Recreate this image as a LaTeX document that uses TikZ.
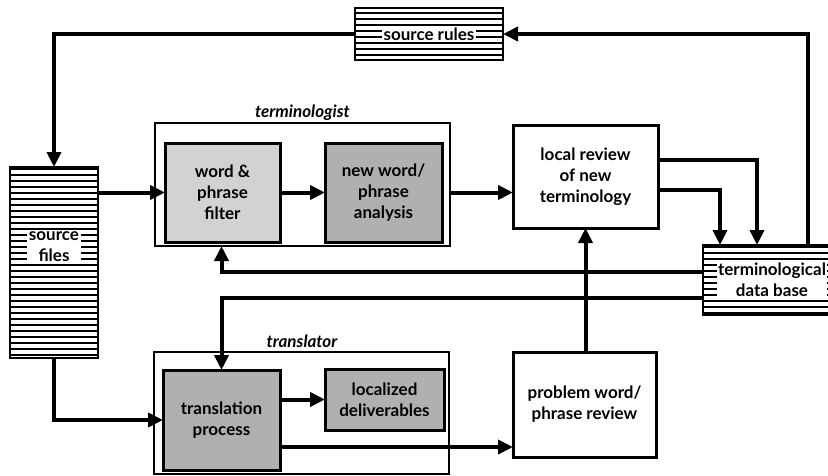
\documentclass[tikz,border=0pt]{standalone}
\usepackage{fontspec}
\setmainfont{Lato}
\usetikzlibrary{arrows.meta,patterns.meta,calc}
\begin{document}
\begin{tikzpicture}[x=1pt,y=-1pt,
  conn/.style={line width=4pt,-{Triangle[length=15pt,width=14pt]}},
  lbl/.style={font=\fontsize{17}{21}\selectfont\bfseries, align=center, text=black},
  striped/.style={draw,line width=2.5pt,pattern={Lines[angle=0,distance=6pt,line width=2pt]},inner sep=0pt,outer sep=0pt},
  whitelbl/.style={lbl,fill=white,inner sep=1.5pt},
  group/.style={draw,line width=1.5pt,fill=white,inner sep=0pt,outer sep=0pt},
  lightbox/.style={draw,line width=3pt,fill=gray!35,inner sep=0pt,outer sep=0pt,lbl},
  darkbox/.style={draw,line width=3pt,fill=gray!62,inner sep=0pt,outer sep=0pt,lbl},
  plainbox/.style={draw,line width=3pt,fill=white,inner sep=0pt,outer sep=0pt,lbl},
  grouplbl/.style={font=\fontsize{17}{20}\selectfont\bfseries\itshape}
]
\useasboundingbox (0,0) rectangle (828,475);

% striped boxes
\node[striped,minimum width=148pt,minimum height=52pt] (srcrules) at (429,34) {};
\node[whitelbl] (srcrulesT) at (srcrules) {source rules};
\node[striped,minimum width=88pt,minimum height=191pt] (srcfiles) at (54,262.5) {};
\node[whitelbl] (srcfilesT) at (54,247) {source\\files};
\node[striped,minimum width=147pt,minimum height=70pt] (db) at (776.5,280) {};
\node[whitelbl] (dbT) at (772,280) {terminological\\data base};

% terminologist group
\node[group,minimum width=295pt,minimum height=123pt] (termbox) at (302.5,184.5) {};
\node[grouplbl,anchor=base] (termlbl) at (302.5,117) {terminologist};
\node[lightbox,minimum width=115pt,minimum height=99pt] (filter) at (222.5,192.5) {word \&\\phrase\\filter};
\node[darkbox,minimum width=117pt,minimum height=99pt] (analysis) at (383.5,192.5) {new word/\\phrase\\analysis};

% local review
\node[plainbox,minimum width=145pt,minimum height=103pt] (localrev) at (585.5,176.5) {local review\\of new\\terminology};

% translator group
\node[group,minimum width=295pt,minimum height=122pt] (transbox) at (301.5,413) {};
\node[grouplbl,anchor=base] (translbl) at (302,347) {translator};
\node[darkbox,minimum width=117pt,minimum height=100pt] (translation) at (221.5,420) {translation\\process};
\node[darkbox,minimum width=119pt,minimum height=61pt] (deliv) at (384.5,399.5) {localized\\deliverables};

% problem review
\node[plainbox,minimum width=143pt,minimum height=105pt] (problem) at (584.5,404.5) {problem word/\\phrase review};

% coordinates on the data base box
\coordinate (dbtap) at (808,245);
\coordinate (dbin1) at (757,245);
\coordinate (dbin2) at (720,245);
\coordinate (dbout1) at (703,272);
\coordinate (dbout2) at (703,298);

% connectors
\draw[conn] (srcrules.west) -| (srcfiles.north);
\draw[conn] (dbtap) |- (srcrules.east);
\draw[conn] (srcfiles.east |- filter.west) -- (filter.west);
\draw[conn] (filter.east) -- (analysis.west);
\draw[conn] (termbox.east |- analysis.east) -- (localrev.west |- analysis.east);
\draw[conn] ([yshift=16.5pt]localrev.east) -| (dbin1);
\draw[conn] ([yshift=-13.5pt]localrev.east) -| (dbin2);
\draw[conn] (dbout1) -| (termbox.south -| translation.north);
\draw[conn] (dbout2) -| (translation.north);
\draw[conn] (srcfiles.south) |- (translation.west);
\draw[conn] (translation.east |- deliv.west) -- (deliv.west);
\draw[conn] ([yshift=-27pt]translation.east) -- ([yshift=-27pt]translation.east -| problem.west);
\draw[conn] (problem.north -| localrev.south) -- (localrev.south);
\end{tikzpicture}
\end{document}
